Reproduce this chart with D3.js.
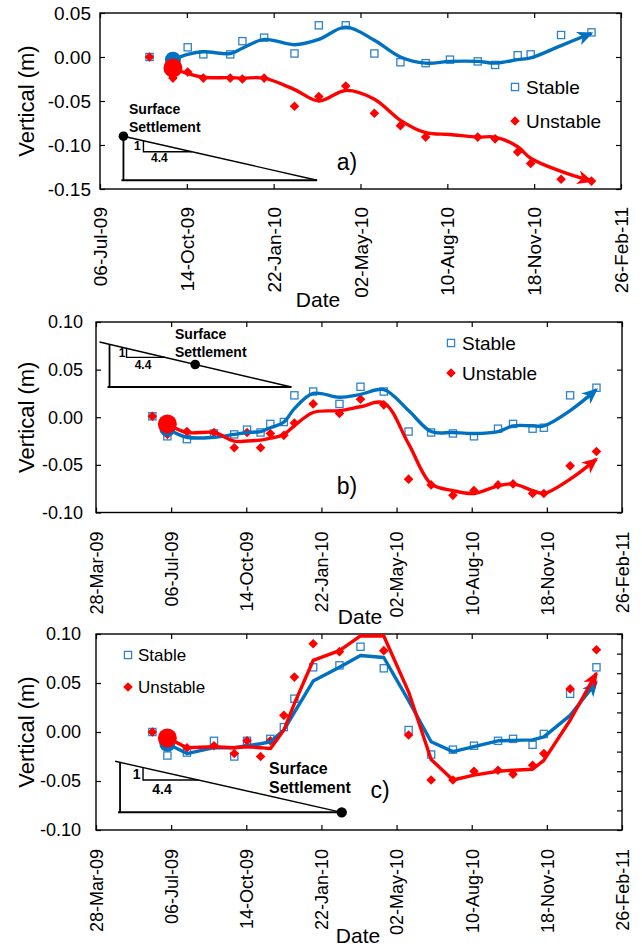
<!DOCTYPE html>
<html>
<head>
<meta charset="utf-8">
<script src="https://cdn.jsdelivr.net/npm/d3@7"></script>
<style>
  body { margin: 0; background: #fff; }
  text { font-family: "Liberation Sans", Arial, sans-serif; }
</style>
</head>
<body>
<div id="chart"></div>
<script>
// ---- data ----

// tick labels
const xTicksA = ["2009-07-06", "2009-10-14", "2010-01-22", "2010-05-02", "2010-08-10", "2010-11-18", "2011-02-26"];
const xTicksBC = ["2009-03-28", "2009-07-06", "2009-10-14", "2010-01-22", "2010-05-02", "2010-08-10", "2010-11-18", "2011-02-26"];
const yTicksA = [-0.15, -0.10, -0.05, 0.00, 0.05];
const yTicksBC = [-0.10, -0.05, 0.00, 0.05, 0.10];
const rightTicksC = [-0.10, -0.08, -0.06, -0.04, -0.02, 0.00, 0.02, 0.04, 0.06, 0.08, 0.10];

// panel a)
const datesA = ["2009-09-01", "2009-09-28", "2009-10-15", "2009-11-02", "2009-12-03", "2009-12-17", "2010-01-11",
  "2010-02-15", "2010-03-15", "2010-04-15", "2010-05-18", "2010-06-17", "2010-07-16", "2010-08-13",
  "2010-09-14", "2010-10-04", "2010-10-30", "2010-11-14", "2010-12-19", "2011-01-23"];
const stableA = [0.000, -0.004, 0.011, 0.003, 0.003, 0.018, 0.022, 0.004, 0.036, 0.036, 0.004, -0.006, -0.007, -0.003,
  -0.005, -0.009, 0.002, 0.003, 0.025, 0.028];
const unstableA = [0.000, -0.024, -0.017, -0.024, -0.024, -0.025, -0.024, -0.056, -0.045, -0.033, -0.064, -0.078, -0.091, null,
  -0.091, -0.093, -0.108, -0.121, -0.139, -0.141];
const stableTrendA = [null, -0.003, 0.003, 0.006, 0.004, 0.010, 0.020, 0.014, 0.020, 0.034, 0.019, 0.000, -0.007, -0.005,
  -0.005, -0.007, -0.003, -0.001, 0.013, 0.027];
const unstableTrendA = [null, -0.0125, -0.019, -0.023, -0.0235, -0.024, -0.024, -0.037, -0.050, -0.038, -0.048, -0.072, -0.086, -0.088,
  -0.091, -0.091, -0.102, -0.115, -0.130, -0.141];

// panels b) and c) share the survey dates
const datesBC = ["2009-06-11", "2009-07-01", "2009-07-27", "2009-09-01", "2009-09-28", "2009-10-15", "2009-11-02", "2009-11-15",
  "2009-12-03", "2009-12-17", "2010-01-11", "2010-02-15", "2010-03-15", "2010-04-15", "2010-05-18", "2010-06-17",
  "2010-07-16", "2010-08-13", "2010-09-14", "2010-10-04", "2010-10-30", "2010-11-14", "2010-12-19", "2011-01-23"];

// panel b)
const stableB = [0.001, -0.020, -0.023, -0.017, -0.018, -0.013, -0.016, -0.007, -0.005, 0.023, 0.027, 0.014, 0.032, 0.027,
  -0.015, -0.016, -0.017, -0.020, -0.012, -0.007, -0.012, -0.011, 0.023, 0.031];
const unstableB = [0.001, -0.018, -0.015, -0.016, -0.032, -0.016, -0.032, -0.017, -0.019, -0.006, 0.014, 0.004, 0.019, 0.013,
  -0.065, -0.071, -0.082, -0.077, -0.071, -0.070, -0.080, -0.080, -0.051, -0.036];
const stableTrendB = [null, -0.012, -0.021, -0.021, -0.018, -0.016, -0.015, -0.011, -0.005, 0.009, 0.025, 0.021, 0.024, 0.029,
  0.007, -0.015, -0.016, -0.017, -0.015, -0.009, -0.009, -0.009, 0.007, 0.029];
const unstableTrendB = [null, -0.007, -0.016, -0.016, -0.025, -0.025, -0.024, -0.022, -0.018, -0.009, 0.005, 0.007, 0.011, 0.015,
  -0.028, -0.070, -0.077, -0.080, -0.072, -0.070, -0.077, -0.080, -0.065, -0.044];

// panel c)
const stableC = [0.000, -0.024, -0.021, -0.009, -0.025, -0.009, null, -0.007, 0.005, 0.034, 0.066, 0.068, 0.087, 0.065,
  0.002, -0.023, -0.018, -0.014, -0.009, -0.007, -0.013, -0.002, 0.039, 0.066];
const unstableC = [0.000, -0.008, -0.016, -0.014, -0.022, -0.009, -0.025, -0.009, 0.017, 0.056, 0.090, 0.082, null, 0.083,
  -0.003, -0.049, -0.049, -0.040, -0.039, -0.043, -0.034, -0.022, 0.044, 0.084];
const stableTrendC = [null, -0.012, -0.022, -0.016, -0.016, -0.014, -0.012, -0.010, 0.002, 0.020, 0.052, 0.066, 0.078, 0.076,
  0.032, -0.010, -0.020, -0.015, -0.009, -0.0085, -0.008, -0.005, 0.017, 0.051];
const unstableTrendC = [null, -0.006, -0.016, -0.015, -0.016, -0.015, -0.016, -0.017, 0.002, 0.029, 0.073, 0.083, 0.098, 0.098,
  0.041, -0.028, -0.049, -0.044, -0.040, -0.039, -0.038, -0.029, 0.012, 0.060];

// 1 : 4.4 settlement triangles (apex date, apex value, base end date, base value, dot date)
const slopeA = ["2009-08-02", -0.090, "2010-03-13", -0.140, "2009-08-02"];
const slopeB = ["2009-04-15", 0.0765, "2009-12-13", 0.0317, "2009-08-07"];
const slopeC = ["2009-04-29", -0.031, "2010-02-18", -0.082, "2010-02-18"];

// ---- drawing ----
const BLUE = '#0070C0';
const SQUARE_BLUE = '#2E82CE';
const RED = '#FF0000';

const parseDate = d3.utcParse('%Y-%m-%d');
const fmtDate = d3.utcFormat('%d-%b-%y');

const svg = d3.select('#chart')
    .append('svg')
    .attr('width', 642)
    .attr('height', 946)
    .style('background', '#fff');

// arrow heads for the trend lines
const defs = svg.append('defs');
[['arrowBlue', BLUE], ['arrowRed', RED]].forEach(([id, c]) => {
    defs.append('marker')
        .attr('id', id)
        .attr('markerUnits', 'userSpaceOnUse')
        .attr('viewBox', '-15 -8 18 16')
        .attr('markerWidth', 18)
        .attr('markerHeight', 16)
        .attr('refX', 0)
        .attr('refY', 0)
        .attr('orient', 'auto')
        .append('path')
        .attr('d', 'M-14,-7L2,0L-14,7L-9.5,0Z')
        .attr('fill', c);
});

const diamond = 'M0,-4.8L4.8,0L0,4.8L-4.8,0Z';

function drawPanel(p) {
    const x = d3.scaleUtc().domain(p.xDomain.map(parseDate)).range([p.left, p.right]);
    const y = d3.scaleLinear().domain(p.yDomain).range([p.bottom, p.top]);
    const g = svg.append('g');

    // bottom axis with rotated date labels
    const bottom = g.append('g')
        .attr('transform', `translate(0,${p.bottom})`)
        .call(d3.axisBottom(x).tickValues(p.xTicks.map(parseDate)).tickFormat(fmtDate).tickSize(-5).tickSizeOuter(0));
    bottom.selectAll('text')
        .attr('transform', 'rotate(-90)')
        .attr('text-anchor', 'end')
        .attr('x', -p.xLabelGap)
        .attr('y', 0)
        .attr('dy', '0.35em');
    bottom.attr('font-size', p.xTickFont).attr('font-family', null);

    // top ticks
    g.append('g')
        .attr('transform', `translate(0,${p.top})`)
        .call(d3.axisTop(x).tickValues(p.xTicks.map(parseDate)).tickFormat('').tickSize(-5).tickSizeOuter(0));

    // left axis
    const left = g.append('g')
        .attr('transform', `translate(${p.left},0)`)
        .call(d3.axisLeft(y).tickValues(p.yTicks).tickFormat(d => d.toFixed(2)).tickSize(-5).tickSizeOuter(0).tickPadding(p.yPad));
    left.attr('font-size', p.yTickFont).attr('font-family', null);

    // right ticks
    g.append('g')
        .attr('transform', `translate(${p.right},0)`)
        .call(d3.axisRight(y).tickValues(p.rightTicks).tickFormat('').tickSize(-5).tickSizeOuter(0));

    g.selectAll('.domain').remove();
    g.selectAll('.tick line').attr('stroke', '#000').attr('stroke-width', 1.2);
    g.selectAll('.tick text').attr('fill', '#000');

    // frame
    g.append('rect')
        .attr('x', p.left).attr('y', p.top)
        .attr('width', p.right - p.left).attr('height', p.bottom - p.top)
        .attr('fill', 'none').attr('stroke', '#000').attr('stroke-width', 1.4);

    // axis titles
    g.append('text')
        .attr('transform', `translate(26,${(p.top + p.bottom) / 2}) rotate(-90)`)
        .attr('text-anchor', 'middle')
        .attr('dy', '0.35em')
        .attr('font-size', 22)
        .text('Vertical (m)');
    g.append('text')
        .attr('x', p.dateLabel[0]).attr('y', p.dateLabel[1])
        .attr('text-anchor', 'middle')
        .attr('dy', '0.35em')
        .attr('font-size', 21)
        .text('Date');

    // settlement triangle
    const s = p.slope;
    const ax = x(parseDate(s[0])), ay = y(s[1]);
    const bx = x(parseDate(s[2])), by = y(s[3]);
    const k = (by - ay) / (bx - ax);
    const tri = g.append('g').attr('stroke', '#000').attr('fill', 'none');
    tri.append('line').attr('x1', ax - p.st.hypExt).attr('y1', ay - p.st.hypExt * k).attr('x2', bx).attr('y2', by).attr('stroke-width', 1.4);
    tri.append('line').attr('x1', ax).attr('y1', ay).attr('x2', ax).attr('y2', by).attr('stroke-width', 1.8);
    tri.append('line').attr('x1', ax - 2).attr('y1', by).attr('x2', bx).attr('y2', by).attr('stroke-width', 2);
    const vx = ax + p.st.off, vy = ay + p.st.off * k;
    const hy = vy + p.st.h;
    const hx = vx + (hy - vy) / k;
    tri.append('polyline').attr('points', `${vx},${vy} ${vx},${hy} ${hx},${hy}`).attr('stroke-width', 1.4);
    g.append('text').attr('x', vx - p.st.oneDx).attr('y', (vy + hy) / 2).attr('dy', '0.35em')
        .attr('text-anchor', 'middle').attr('font-weight', 'bold').attr('font-size', p.st.small).text('1');
    g.append('text').attr('x', vx + p.st.fourDx).attr('y', hy + p.st.fourDy).attr('dy', '0.35em')
        .attr('text-anchor', 'middle').attr('font-weight', 'bold').attr('font-size', p.st.small).text('4.4');
    const dx = x(parseDate(s[4]));
    g.append('circle').attr('cx', dx).attr('cy', ay + (dx - ax) * k).attr('r', p.st.dotR).attr('fill', '#000');
    ['Surface', 'Settlement'].forEach((t, i) => {
        g.append('text').attr('x', p.st.label[0]).attr('y', p.st.label[1 + i]).attr('dy', '0.35em')
            .attr('font-weight', 'bold').attr('font-size', p.st.font).text(t);
    });

    // markers
    const pts = (vals) => p.dates.map((d, i) => ({date: parseDate(d), v: vals[i]})).filter(d => d.v !== null);

    g.append('g').selectAll('rect')
        .data(pts(p.stable))
        .enter()
        .append('rect')
        .attr('x', d => x(d.date) - 3.6)
        .attr('y', d => y(d.v) - 3.6)
        .attr('width', 7.2).attr('height', 7.2)
        .attr('fill', 'none').attr('stroke', SQUARE_BLUE).attr('stroke-width', 1.3);

    g.append('g').selectAll('path')
        .data(pts(p.unstable))
        .enter()
        .append('path')
        .attr('d', diamond)
        .attr('transform', d => `translate(${x(d.date)},${y(d.v)})`)
        .attr('fill', RED);

    // trend lines with arrows
    const line = d3.line().x(d => x(d.date)).y(d => y(d.v)).curve(p.curve);
    const stableTrend = pts(p.stableTrend), unstableTrend = pts(p.unstableTrend);
    g.append('path').datum(stableTrend).attr('d', line)
        .attr('fill', 'none').attr('stroke', BLUE).attr('stroke-width', 3.4).attr('stroke-linejoin', 'round')
        .attr('marker-end', 'url(#arrowBlue)');
    g.append('path').datum(unstableTrend).attr('d', line)
        .attr('fill', 'none').attr('stroke', RED).attr('stroke-width', 3.4).attr('stroke-linejoin', 'round')
        .attr('marker-end', 'url(#arrowRed)');
    g.append('circle').attr('cx', x(stableTrend[0].date)).attr('cy', y(stableTrend[0].v)).attr('r', 8).attr('fill', BLUE);
    g.append('circle').attr('cx', x(unstableTrend[0].date)).attr('cy', y(unstableTrend[0].v)).attr('r', 9.5).attr('fill', RED);

    // legend
    const lg = p.legend;
    g.append('rect').attr('x', lg.x - 3.6).attr('y', lg.y - 3.6).attr('width', 7.2).attr('height', 7.2)
        .attr('fill', 'none').attr('stroke', SQUARE_BLUE).attr('stroke-width', 1.3);
    g.append('path').attr('d', diamond).attr('transform', `translate(${lg.x},${lg.y + lg.dy})`).attr('fill', RED);
    ['Stable', 'Unstable'].forEach((t, i) => {
        g.append('text').attr('x', lg.x + lg.gap).attr('y', lg.y + i * lg.dy).attr('dy', '0.35em')
            .attr('font-size', lg.font).text(t);
    });

    // panel tag
    g.append('text').attr('x', p.tag[1]).attr('y', p.tag[2]).attr('dy', '0.35em')
        .attr('text-anchor', 'middle').attr('font-size', 23).text(p.tag[0]);
}

const panels = [
    {
        left: 100, right: 621, top: 13, bottom: 189,
        xDomain: ['2009-07-06', '2011-02-26'], xTicks: xTicksA,
        yDomain: [-0.15, 0.05], yTicks: yTicksA, rightTicks: yTicksA,
        dates: datesA, stable: stableA, unstable: unstableA, stableTrend: stableTrendA, unstableTrend: unstableTrendA,
        curve: d3.curveCatmullRom, yPad: 9, yTickFont: 19, xTickFont: 19, xLabelGap: 18,
        dateLabel: [318, 300],
        legend: {x: 515, y: 87, dy: 34, gap: 11, font: 19},
        tag: ['a)', 347, 162],
        slope: slopeA,
        st: {hypExt: 0, off: 20, h: 11, oneDx: 6, fourDx: 16, fourDy: 6, small: 12, dotR: 4.8, font: 14, label: [129, 109, 127]}
    },
    {
        left: 96, right: 622, top: 322, bottom: 512.5,
        xDomain: ['2009-03-28', '2011-02-26'], xTicks: xTicksBC,
        yDomain: [-0.10, 0.10], yTicks: yTicksBC, rightTicks: yTicksBC,
        dates: datesBC, stable: stableB, unstable: unstableB, stableTrend: stableTrendB, unstableTrend: unstableTrendB,
        curve: d3.curveCatmullRom, yPad: 13, yTickFont: 18, xTickFont: 18, xLabelGap: 19,
        dateLabel: [360, 617],
        legend: {x: 451, y: 343, dy: 30, gap: 11, font: 19},
        tag: ['b)', 347, 486],
        slope: slopeB,
        st: {hypExt: 10, off: 17, h: 9, oneDx: 4.5, fourDx: 16.5, fourDy: 7, small: 12, dotR: 4.8, font: 14, label: [175, 334, 352]}
    },
    {
        left: 96, right: 622, top: 634, bottom: 830,
        xDomain: ['2009-03-28', '2011-02-26'], xTicks: xTicksBC,
        yDomain: [-0.10, 0.10], yTicks: yTicksBC, rightTicks: rightTicksC,
        dates: datesBC, stable: stableC, unstable: unstableC, stableTrend: stableTrendC, unstableTrend: unstableTrendC,
        curve: d3.curveLinear, yPad: 15, yTickFont: 18, xTickFont: 18, xLabelGap: 19,
        dateLabel: [358, 936],
        legend: {x: 128, y: 655, dy: 32, gap: 10, font: 17},
        tag: ['c)', 380, 790],
        slope: slopeC,
        st: {hypExt: 5, off: 23, h: 12.5, oneDx: 6.5, fourDx: 19, fourDy: 9, small: 14, dotR: 5.2, font: 16, label: [269, 768, 787]}
    }
];

panels.forEach(drawPanel);
</script>
</body>
</html>
